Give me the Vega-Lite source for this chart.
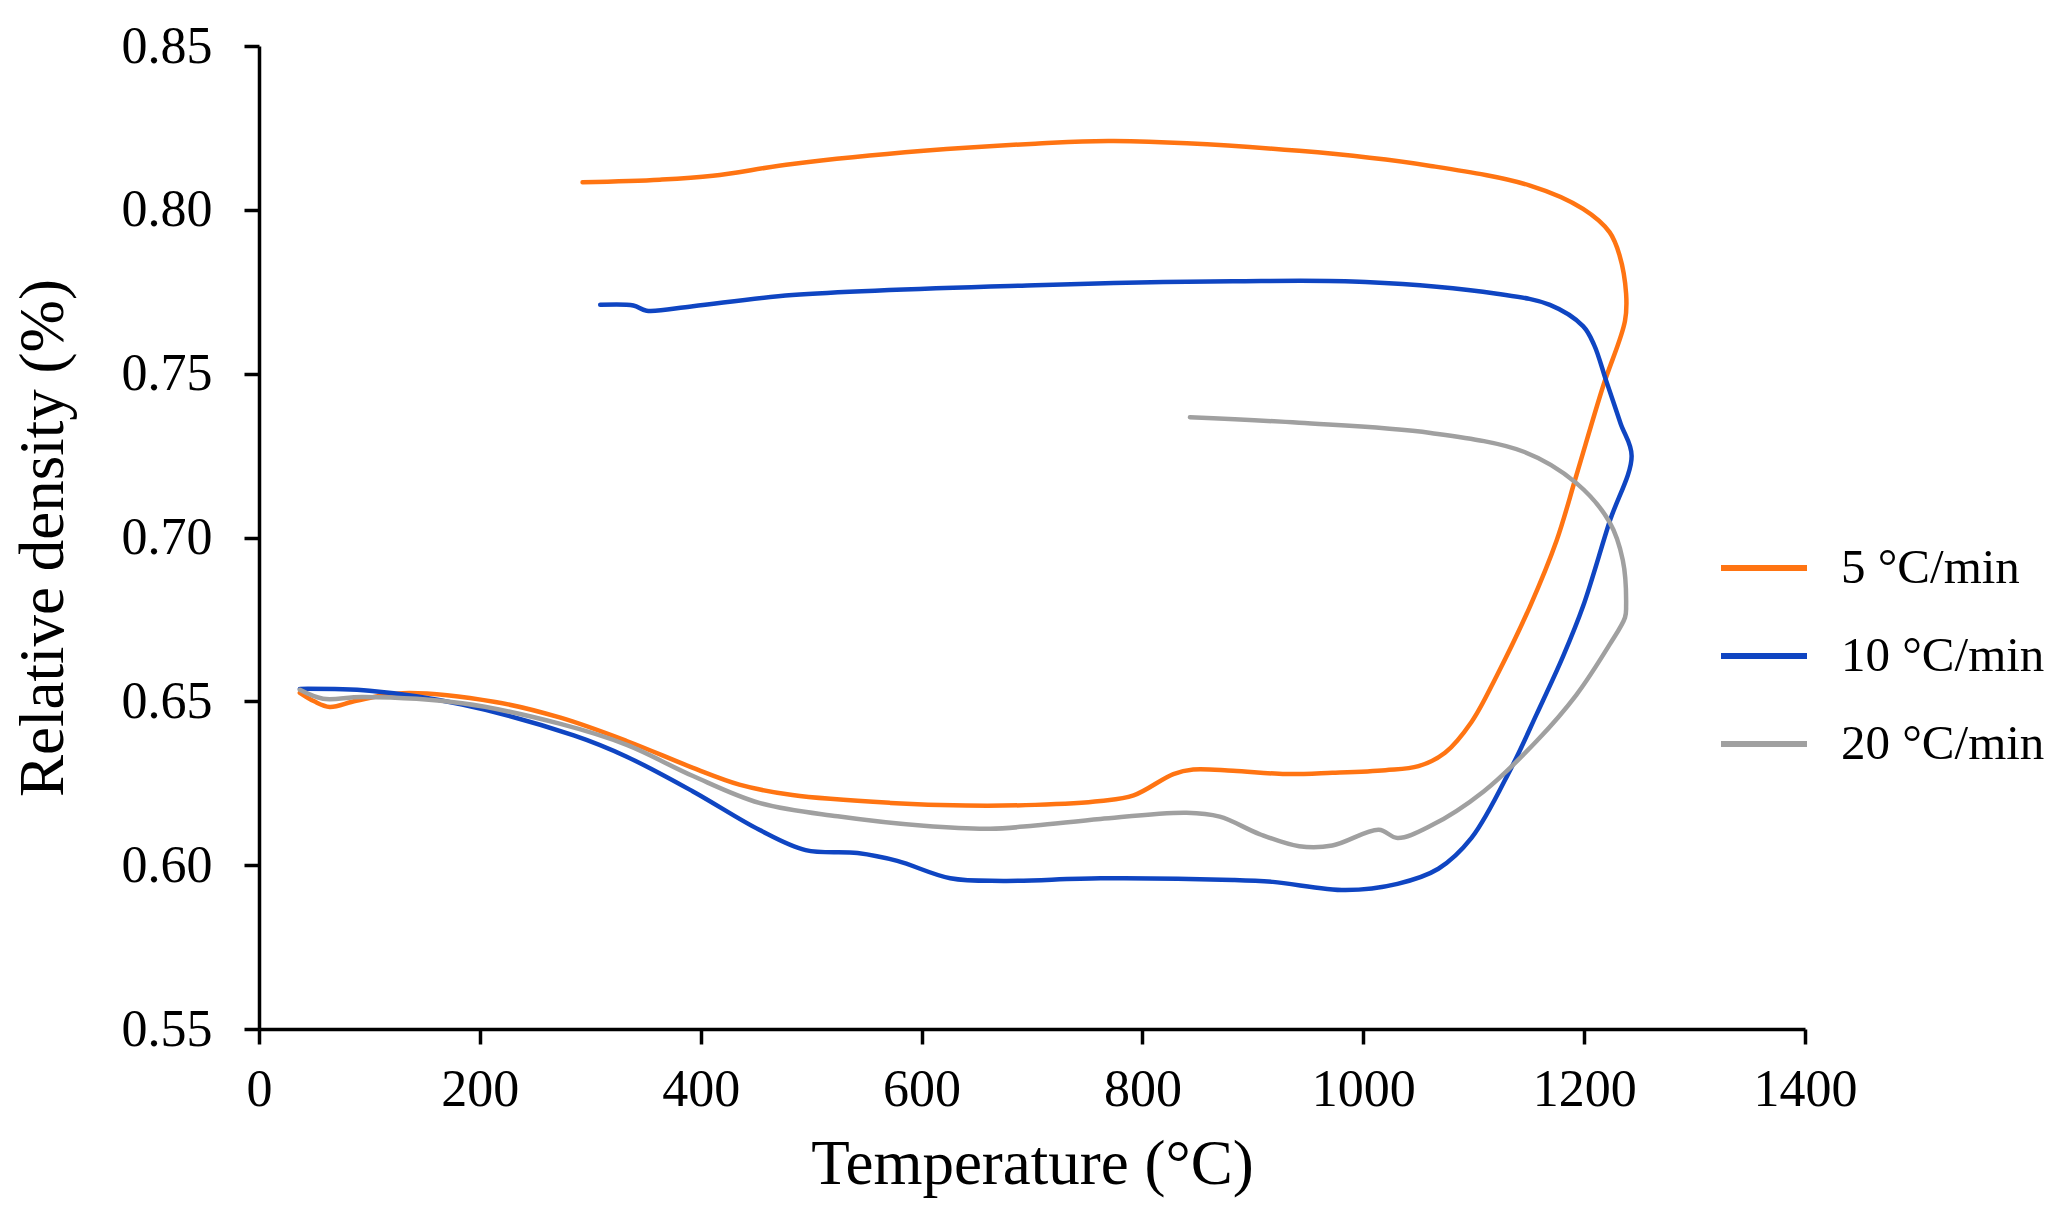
{
  "$schema": "https://vega.github.io/schema/vega-lite/v6.json",
  "autosize": {"type": "none"},
  "width": 1546,
  "height": 983,
  "padding": {"left": 259, "top": 46, "right": 266, "bottom": 183},
  "background": "#ffffff",
  "config": {
    "view": {"stroke": null},
    "font": "Liberation Serif",
    "axis": {
      "grid": false,
      "domainColor": "#000000",
      "domainWidth": 3.5,
      "tickColor": "#000000",
      "tickWidth": 3.5,
      "tickSize": 15,
      "labelColor": "#000000",
      "labelFont": "Liberation Serif",
      "labelFontSize": 52,
      "titleColor": "#000000",
      "titleFont": "Liberation Serif",
      "titleFontSize": 63,
      "titleFontWeight": "normal"
    }
  },
  "data": {
    "values": [
      {"s": "5 °C/min", "i": 1, "T": 37, "d": 0.6526},
      {"s": "5 °C/min", "i": 2, "T": 50, "d": 0.6500},
      {"s": "5 °C/min", "i": 3, "T": 64, "d": 0.6483},
      {"s": "5 °C/min", "i": 4, "T": 88, "d": 0.6502},
      {"s": "5 °C/min", "i": 5, "T": 130, "d": 0.6525},
      {"s": "5 °C/min", "i": 6, "T": 214, "d": 0.6498},
      {"s": "5 °C/min", "i": 7, "T": 273, "d": 0.6450},
      {"s": "5 °C/min", "i": 8, "T": 333, "d": 0.6379},
      {"s": "5 °C/min", "i": 9, "T": 393, "d": 0.6297},
      {"s": "5 °C/min", "i": 10, "T": 435, "d": 0.6246},
      {"s": "5 °C/min", "i": 11, "T": 483, "d": 0.6214},
      {"s": "5 °C/min", "i": 12, "T": 572, "d": 0.6190},
      {"s": "5 °C/min", "i": 13, "T": 640, "d": 0.6182},
      {"s": "5 °C/min", "i": 14, "T": 703, "d": 0.6184},
      {"s": "5 °C/min", "i": 15, "T": 762, "d": 0.6196},
      {"s": "5 °C/min", "i": 16, "T": 792, "d": 0.6213},
      {"s": "5 °C/min", "i": 17, "T": 828, "d": 0.6278},
      {"s": "5 °C/min", "i": 18, "T": 846, "d": 0.6292},
      {"s": "5 °C/min", "i": 19, "T": 882, "d": 0.6288},
      {"s": "5 °C/min", "i": 20, "T": 930, "d": 0.6278},
      {"s": "5 °C/min", "i": 21, "T": 972, "d": 0.6282},
      {"s": "5 °C/min", "i": 22, "T": 1020, "d": 0.6290},
      {"s": "5 °C/min", "i": 23, "T": 1050, "d": 0.6302},
      {"s": "5 °C/min", "i": 24, "T": 1074, "d": 0.6343},
      {"s": "5 °C/min", "i": 25, "T": 1098, "d": 0.6437},
      {"s": "5 °C/min", "i": 26, "T": 1121, "d": 0.6579},
      {"s": "5 °C/min", "i": 27, "T": 1151, "d": 0.6790},
      {"s": "5 °C/min", "i": 28, "T": 1175, "d": 0.6990},
      {"s": "5 °C/min", "i": 29, "T": 1193, "d": 0.7190},
      {"s": "5 °C/min", "i": 30, "T": 1217, "d": 0.7460},
      {"s": "5 °C/min", "i": 31, "T": 1237, "d": 0.7661},
      {"s": "5 °C/min", "i": 32, "T": 1238, "d": 0.7744},
      {"s": "5 °C/min", "i": 33, "T": 1232, "d": 0.7862},
      {"s": "5 °C/min", "i": 34, "T": 1223, "d": 0.7932},
      {"s": "5 °C/min", "i": 35, "T": 1199, "d": 0.8003},
      {"s": "5 °C/min", "i": 36, "T": 1151, "d": 0.8074},
      {"s": "5 °C/min", "i": 37, "T": 1061, "d": 0.8134},
      {"s": "5 °C/min", "i": 38, "T": 942, "d": 0.8180},
      {"s": "5 °C/min", "i": 39, "T": 774, "d": 0.8210},
      {"s": "5 °C/min", "i": 40, "T": 703, "d": 0.8202},
      {"s": "5 °C/min", "i": 41, "T": 602, "d": 0.8180},
      {"s": "5 °C/min", "i": 42, "T": 483, "d": 0.8140},
      {"s": "5 °C/min", "i": 43, "T": 411, "d": 0.8104},
      {"s": "5 °C/min", "i": 44, "T": 363, "d": 0.8092},
      {"s": "5 °C/min", "i": 45, "T": 293, "d": 0.8084},

      {"s": "10 °C/min", "i": 1, "T": 37, "d": 0.6538},
      {"s": "10 °C/min", "i": 2, "T": 100, "d": 0.6532},
      {"s": "10 °C/min", "i": 3, "T": 184, "d": 0.6490},
      {"s": "10 °C/min", "i": 4, "T": 285, "d": 0.6396},
      {"s": "10 °C/min", "i": 5, "T": 333, "d": 0.6331},
      {"s": "10 °C/min", "i": 6, "T": 393, "d": 0.6225},
      {"s": "10 °C/min", "i": 7, "T": 453, "d": 0.6108},
      {"s": "10 °C/min", "i": 8, "T": 495, "d": 0.6046},
      {"s": "10 °C/min", "i": 9, "T": 542, "d": 0.6037},
      {"s": "10 °C/min", "i": 10, "T": 578, "d": 0.6013},
      {"s": "10 °C/min", "i": 11, "T": 626, "d": 0.5960},
      {"s": "10 °C/min", "i": 12, "T": 674, "d": 0.5952},
      {"s": "10 °C/min", "i": 13, "T": 762, "d": 0.5960},
      {"s": "10 °C/min", "i": 14, "T": 882, "d": 0.5955},
      {"s": "10 °C/min", "i": 15, "T": 918, "d": 0.5949},
      {"s": "10 °C/min", "i": 16, "T": 984, "d": 0.5924},
      {"s": "10 °C/min", "i": 17, "T": 1031, "d": 0.5943},
      {"s": "10 °C/min", "i": 18, "T": 1068, "d": 0.5989},
      {"s": "10 °C/min", "i": 19, "T": 1098, "d": 0.6083},
      {"s": "10 °C/min", "i": 20, "T": 1134, "d": 0.6297},
      {"s": "10 °C/min", "i": 21, "T": 1157, "d": 0.6461},
      {"s": "10 °C/min", "i": 22, "T": 1181, "d": 0.6638},
      {"s": "10 °C/min", "i": 23, "T": 1199, "d": 0.6790},
      {"s": "10 °C/min", "i": 24, "T": 1223, "d": 0.7048},
      {"s": "10 °C/min", "i": 25, "T": 1243, "d": 0.7249},
      {"s": "10 °C/min", "i": 26, "T": 1233, "d": 0.7348},
      {"s": "10 °C/min", "i": 27, "T": 1220, "d": 0.7478},
      {"s": "10 °C/min", "i": 28, "T": 1209, "d": 0.7588},
      {"s": "10 °C/min", "i": 29, "T": 1199, "d": 0.7645},
      {"s": "10 °C/min", "i": 30, "T": 1169, "d": 0.7710},
      {"s": "10 °C/min", "i": 31, "T": 1121, "d": 0.7744},
      {"s": "10 °C/min", "i": 32, "T": 1002, "d": 0.7780},
      {"s": "10 °C/min", "i": 33, "T": 882, "d": 0.7782},
      {"s": "10 °C/min", "i": 34, "T": 703, "d": 0.7770},
      {"s": "10 °C/min", "i": 35, "T": 483, "d": 0.7740},
      {"s": "10 °C/min", "i": 36, "T": 393, "d": 0.7706},
      {"s": "10 °C/min", "i": 37, "T": 351, "d": 0.7692},
      {"s": "10 °C/min", "i": 38, "T": 339, "d": 0.7708},
      {"s": "10 °C/min", "i": 39, "T": 309, "d": 0.7710},

      {"s": "20 °C/min", "i": 1, "T": 37, "d": 0.6535},
      {"s": "20 °C/min", "i": 2, "T": 58, "d": 0.6508},
      {"s": "20 °C/min", "i": 3, "T": 94, "d": 0.6513},
      {"s": "20 °C/min", "i": 4, "T": 184, "d": 0.6494},
      {"s": "20 °C/min", "i": 5, "T": 273, "d": 0.6431},
      {"s": "20 °C/min", "i": 6, "T": 333, "d": 0.6367},
      {"s": "20 °C/min", "i": 7, "T": 393, "d": 0.6272},
      {"s": "20 °C/min", "i": 8, "T": 453, "d": 0.6190},
      {"s": "20 °C/min", "i": 9, "T": 524, "d": 0.6149},
      {"s": "20 °C/min", "i": 10, "T": 602, "d": 0.6120},
      {"s": "20 °C/min", "i": 11, "T": 662, "d": 0.6111},
      {"s": "20 °C/min", "i": 12, "T": 703, "d": 0.6121},
      {"s": "20 °C/min", "i": 13, "T": 762, "d": 0.6141},
      {"s": "20 °C/min", "i": 14, "T": 840, "d": 0.6160},
      {"s": "20 °C/min", "i": 15, "T": 870, "d": 0.6148},
      {"s": "20 °C/min", "i": 16, "T": 906, "d": 0.6095},
      {"s": "20 °C/min", "i": 17, "T": 942, "d": 0.6058},
      {"s": "20 °C/min", "i": 18, "T": 972, "d": 0.6060},
      {"s": "20 °C/min", "i": 19, "T": 1014, "d": 0.6108},
      {"s": "20 °C/min", "i": 20, "T": 1031, "d": 0.6083},
      {"s": "20 °C/min", "i": 21, "T": 1061, "d": 0.6120},
      {"s": "20 °C/min", "i": 22, "T": 1109, "d": 0.6225},
      {"s": "20 °C/min", "i": 23, "T": 1157, "d": 0.6379},
      {"s": "20 °C/min", "i": 24, "T": 1193, "d": 0.6520},
      {"s": "20 °C/min", "i": 25, "T": 1223, "d": 0.6673},
      {"s": "20 °C/min", "i": 26, "T": 1237, "d": 0.6756},
      {"s": "20 °C/min", "i": 27, "T": 1238, "d": 0.6790},
      {"s": "20 °C/min", "i": 28, "T": 1235, "d": 0.6931},
      {"s": "20 °C/min", "i": 29, "T": 1223, "d": 0.7047},
      {"s": "20 °C/min", "i": 30, "T": 1193, "d": 0.7166},
      {"s": "20 °C/min", "i": 31, "T": 1146, "d": 0.7261},
      {"s": "20 °C/min", "i": 32, "T": 1061, "d": 0.7319},
      {"s": "20 °C/min", "i": 33, "T": 942, "d": 0.7350},
      {"s": "20 °C/min", "i": 34, "T": 843, "d": 0.7367}
    ]
  },
  "mark": {"type": "line", "strokeWidth": 4.5, "interpolate": "catmull-rom", "strokeCap": "round"},
  "encoding": {
    "x": {
      "field": "T",
      "type": "quantitative",
      "title": "Temperature (°C)",
      "scale": {"domain": [0, 1400], "nice": false, "zero": false},
      "axis": {"values": [0, 200, 400, 600, 800, 1000, 1200, 1400], "format": "d", "labelPadding": 20, "titlePadding": 18, "labelFlush": false}
    },
    "y": {
      "field": "d",
      "type": "quantitative",
      "title": "Relative density (%)",
      "scale": {"domain": [0.55, 0.85], "nice": false, "zero": false},
      "axis": {"values": [0.55, 0.6, 0.65, 0.7, 0.75, 0.8, 0.85], "format": ".2f", "labelPadding": 32, "titlePadding": 46, "labelFlush": false}
    },
    "color": {
      "field": "s",
      "type": "nominal",
      "scale": {
        "domain": ["5 °C/min", "10 °C/min", "20 °C/min"],
        "range": ["#ff7412", "#0f45c2", "#a0a0a0"]
      },
      "legend": {
        "title": null,
        "orient": "none",
        "legendX": 1459,
        "legendY": 476,
        "padding": 0,
        "symbolType": "stroke",
        "symbolSize": 7396,
        "symbolStrokeWidth": 6,
        "labelFont": "Liberation Serif",
        "labelFontSize": 49,
        "labelColor": "#000000",
        "labelOffset": 31,
        "rowPadding": 17,
        "labelLimit": 400
      }
    },
    "order": {"field": "i", "type": "quantitative"}
  }
}
